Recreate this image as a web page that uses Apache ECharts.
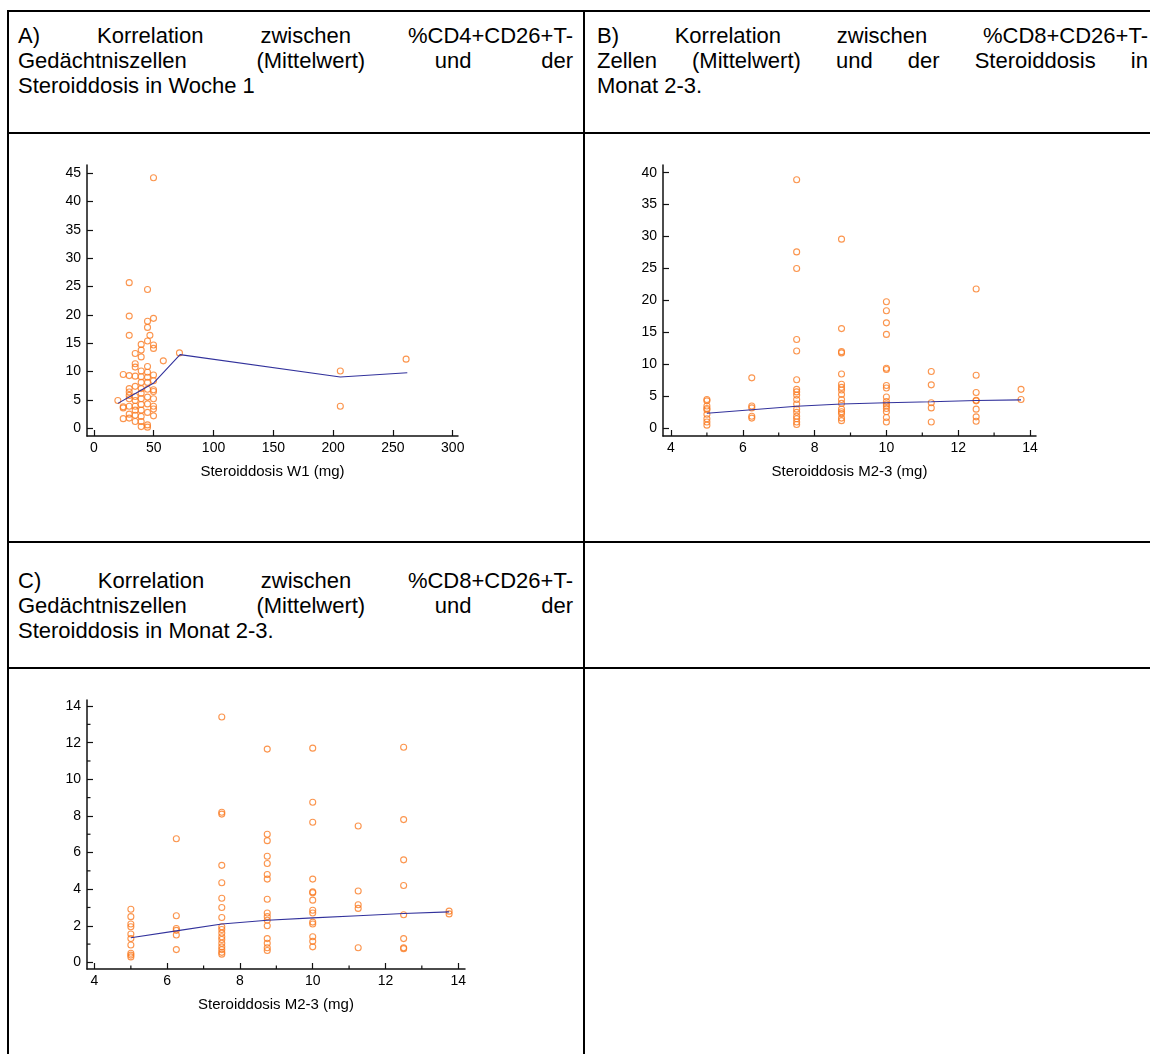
<!DOCTYPE html>
<html><head><meta charset="utf-8">
<script src="https://cdn.jsdelivr.net/npm/echarts@6/dist/echarts.min.js"></script>
<style>
html,body{margin:0;padding:0;background:#fff;width:1150px;height:1054px;overflow:hidden;position:relative;}
.hl{position:absolute;height:2px;background:#000;}
.vl{position:absolute;width:2px;background:#000;}
.cap{position:absolute;font-family:"Liberation Sans",Arial,sans-serif;font-size:22px;color:#000;line-height:25px;}
.cap .j{text-align:justify;text-align-last:justify;}
.cap .l{text-align:left;}
#c{position:absolute;left:0;top:0;width:1150px;height:1054px;}
</style></head>
<body>
<div class="hl" style="left:7px;top:10px;width:1143px;"></div>
<div class="hl" style="left:7px;top:132px;width:1143px;"></div>
<div class="hl" style="left:7px;top:541px;width:1143px;"></div>
<div class="hl" style="left:7px;top:667px;width:1143px;"></div>
<div class="vl" style="left:7px;top:10px;height:1044px;"></div>
<div class="vl" style="left:583px;top:10px;height:1044px;"></div>

<div class="cap" style="left:18px;top:23px;width:555px;">
<div class="j">A) Korrelation zwischen %CD4+CD26+T-</div>
<div class="j">Gedächtniszellen (Mittelwert) und der</div>
<div class="l">Steroiddosis in Woche 1</div>
</div>
<div class="cap" style="left:597px;top:23px;width:551px;">
<div class="j">B) Korrelation zwischen %CD8+CD26+T-</div>
<div class="j">Zellen (Mittelwert) und der Steroiddosis in</div>
<div class="l">Monat 2-3.</div>
</div>
<div class="cap" style="left:18px;top:568px;width:555px;">
<div class="j">C) Korrelation zwischen %CD8+CD26+T-</div>
<div class="j">Gedächtniszellen (Mittelwert) und der</div>
<div class="l">Steroiddosis in Monat 2-3.</div>
</div>

<div id="c"></div>
<script>
// ---------- Panel A ----------
const aColX = [20, 24.5, 29.5, 34.5, 39.5, 44.8, 46.8, 49.8, 58, 71.5, 206, 261];
const aColY = [
  [4.9],
  [9.5, 3.8, 3.6, 1.7],
  [25.7, 19.8, 16.4, 9.3, 7.0, 6.4, 5.8, 5.2, 3.9, 2.5, 1.8],
  [13.2, 11.4, 10.8, 9.2, 7.4, 5.6, 4.9, 3.9, 3.2, 2.3, 1.2],
  [14.8, 13.8, 12.6, 10.1, 9.1, 8.1, 7.0, 6.2, 5.2, 4.2, 3.2, 2.1, 1.2, 0.3],
  [24.5, 18.9, 17.8, 15.4, 10.9, 9.9, 9.0, 8.1, 6.9, 5.5, 4.3, 2.8, 0.6, 0.2],
  [16.4],
  [44.2, 19.4, 14.7, 14.1, 9.4, 8.4, 6.8, 6.5, 5.2, 3.9, 3.4, 2.2],
  [11.9],
  [13.3],
  [10.1, 3.9],
  [12.2]
];
const aLineX = [20, 35, 50, 72, 206, 262];
const aLineY = [4.4, 6.2, 8.0, 13.0, 9.05, 9.8];
const aXTicks = [0, 50, 100, 150, 200, 250, 300];
const aYTicks = [0, 5, 10, 15, 20, 25, 30, 35, 40, 45];

// ---------- Panel B ----------
const bColX = [5, 6.25, 7.5, 8.75, 10, 11.25, 12.5, 13.75];
const bColY = [
  [4.5, 4.3, 3.5, 3.1, 2.9, 2.2, 1.5, 1.0, 0.5],
  [7.9, 3.5, 3.2, 1.9, 1.6],
  [38.9, 27.6, 25.0, 13.9, 12.1, 7.6, 6.1, 5.7, 5.2, 4.5, 3.8, 3.0, 2.5, 1.9, 1.5, 1.0, 0.6],
  [29.6, 15.6, 12.0, 11.8, 8.5, 6.9, 6.4, 6.0, 5.3, 4.5, 3.9, 3.0, 2.6, 2.3, 1.6, 1.2],
  [19.8, 18.4, 16.5, 14.7, 9.4, 9.2, 6.7, 6.3, 4.9, 4.2, 3.8, 3.5, 3.1, 2.6, 1.7, 1.0],
  [8.9, 6.8, 4.0, 3.2, 1.0],
  [21.8, 8.3, 5.6, 4.4, 4.3, 3.0, 1.8, 1.1],
  [6.1, 4.5]
];
const bLineX = [5, 6.25, 7.5, 8.75, 10, 11.25, 12.5, 13.75];
const bLineY = [2.35, 2.9, 3.45, 3.8, 4.0, 4.15, 4.35, 4.45];
const bXTicks = [4, 6, 8, 10, 12, 14];
const bXMinor = [5, 7, 9, 11, 13];
const bYTicks = [0, 5, 10, 15, 20, 25, 30, 35, 40];

// ---------- Panel C ----------
const cColX = [5, 6.25, 7.5, 8.75, 10, 11.25, 12.5, 13.75];
const cColY = [
  [2.9, 2.5, 2.1, 1.95, 1.55, 1.3, 0.95, 0.5, 0.4, 0.3],
  [6.75, 2.55, 1.85, 1.75, 1.5, 0.7],
  [13.4, 8.2, 8.1, 5.3, 4.35, 3.5, 3.0, 2.45, 1.95, 1.8, 1.6, 1.4, 1.25, 1.05, 0.85, 0.7, 0.55, 0.45],
  [11.65, 7.0, 6.65, 5.8, 5.4, 4.8, 4.55, 3.45, 2.7, 2.5, 2.3, 2.0, 1.3, 1.05, 0.8, 0.65],
  [11.7, 8.75, 7.65, 4.55, 3.85, 3.8, 3.4, 2.85, 2.7, 2.2, 2.1, 1.4, 1.15, 0.85],
  [7.45, 3.9, 3.15, 2.95, 0.8],
  [11.75, 7.8, 5.6, 4.2, 2.6, 1.3, 0.8, 0.75],
  [2.8, 2.65]
];
const cLineX = [5, 6.25, 7.5, 8.75, 10, 11.25, 12.5, 13.75];
const cLineY = [1.35, 1.72, 2.1, 2.3, 2.43, 2.55, 2.67, 2.76];
const cXTicks = [4, 6, 8, 10, 12, 14];
const cXMinor = [5, 7, 9, 11, 13];
const cYTicks = [0, 2, 4, 6, 8, 10, 12, 14];
const cYMinor = [1, 3, 5, 7, 9, 11, 13];

const nameA = 'Steroiddosis W1 (mg)';
const nameBC = 'Steroiddosis M2-3 (mg)';

// axis extents (slightly beyond the data range, as in the original plot frame)
const aX = [-5.8, 304.4], aY = [-1.36, 46.46];
const bX = [3.777, 14.167], bY = [-1.2, 41.2];
const cX = [3.794, 14.187], cY = [-0.36, 14.33];

function pts(xs, ys) {
  const out = [];
  xs.forEach((x, i) => ys[i].forEach(y => out.push([x, y])));
  return out;
}
function linePts(xs, ys) { return xs.map((x, i) => [x, ys[i]]); }

const FONT = '"Liberation Sans", Arial, sans-serif';
const AX = '#111';
const ORANGE = '#fa7a22';
const NAVY = '#32329c';

function mainX(grid, ext, ticks, name) {
  return {
    type: 'value', gridIndex: grid, min: ext[0], max: ext[1], position: 'bottom',
    axisLine: { show: true, onZero: false, lineStyle: { color: AX, width: 1.5 } },
    axisTick: { show: true, inside: true, length: 6, customValues: ticks, lineStyle: { color: AX, width: 1.2 } },
    axisLabel: { show: true, customValues: ticks, margin: 5, fontSize: 14, color: '#000', fontFamily: FONT },
    splitLine: { show: false },
    name: name, nameLocation: 'middle', nameGap: 28,
    nameTextStyle: { fontSize: 15, color: '#000', fontFamily: FONT }
  };
}
function mainY(grid, ext, ticks) {
  return {
    type: 'value', gridIndex: grid, min: ext[0], max: ext[1], position: 'left',
    axisLine: { show: true, onZero: false, lineStyle: { color: AX, width: 1.5 } },
    axisTick: { show: true, inside: true, length: 6, customValues: ticks, lineStyle: { color: AX, width: 1.2 } },
    axisLabel: { show: true, customValues: ticks, margin: 6, fontSize: 14, color: '#000', fontFamily: FONT },
    splitLine: { show: false }
  };
}
function scat(xi, yi, data) {
  return {
    type: 'scatter', xAxisIndex: xi, yAxisIndex: yi, data: data,
    symbol: 'circle', symbolSize: 6, silent: true,
    itemStyle: { color: 'rgba(0,0,0,0)', borderColor: ORANGE, borderWidth: 1.1 }
  };
}
function lin(xi, yi, data) {
  return {
    type: 'line', xAxisIndex: xi, yAxisIndex: yi, data: data,
    showSymbol: false, symbol: 'none', silent: true, z: 3,
    lineStyle: { color: NAVY, width: 1.1 }
  };
}
// minor ticks drawn through the axis scales
function minorXTicks(xi, yi, vals, yExt) {
  return {
    type: 'custom', xAxisIndex: xi, yAxisIndex: yi, silent: true, clip: false, z: 4,
    data: vals.map(v => [v, yExt[0]]),
    renderItem: function (params, api) {
      const p = api.coord([api.value(0), api.value(1)]);
      return { type: 'line', shape: { x1: p[0], y1: p[1], x2: p[0], y2: p[1] - 3.5 },
               style: { stroke: AX, lineWidth: 1.2 } };
    }
  };
}
function minorYTicks(xi, yi, vals, xExt) {
  return {
    type: 'custom', xAxisIndex: xi, yAxisIndex: yi, silent: true, clip: false, z: 4,
    data: vals.map(v => [xExt[0], v]),
    renderItem: function (params, api) {
      const p = api.coord([api.value(0), api.value(1)]);
      return { type: 'line', shape: { x1: p[0], y1: p[1], x2: p[0] + 3.5, y2: p[1] },
               style: { stroke: AX, lineWidth: 1.2 } };
    }
  };
}

const chart = echarts.init(document.getElementById('c'), null, { renderer: 'canvas' });
chart.setOption({
  animation: false,
  backgroundColor: 'transparent',
  grid: [
    { left: 87, top: 165, width: 371, height: 271 },
    { left: 663, top: 165, width: 373, height: 271 },
    { left: 87, top: 700, width: 378, height: 269 }
  ],
  xAxis: [
    mainX(0, aX, aXTicks, nameA),
    mainX(1, bX, bXTicks, nameBC),
    mainX(2, cX, cXTicks, nameBC)
  ],
  yAxis: [
    mainY(0, aY, aYTicks),
    mainY(1, bY, bYTicks),
    mainY(2, cY, cYTicks)
  ],
  series: [
    scat(0, 0, pts(aColX, aColY)),
    lin(0, 0, linePts(aLineX, aLineY)),
    scat(1, 1, pts(bColX, bColY)),
    lin(1, 1, linePts(bLineX, bLineY)),
    minorXTicks(1, 1, bXMinor, bY),
    scat(2, 2, pts(cColX, cColY)),
    lin(2, 2, linePts(cLineX, cLineY)),
    minorXTicks(2, 2, cXMinor, cY),
    minorYTicks(2, 2, cYMinor, cX)
  ]
});
</script>
</body></html>
